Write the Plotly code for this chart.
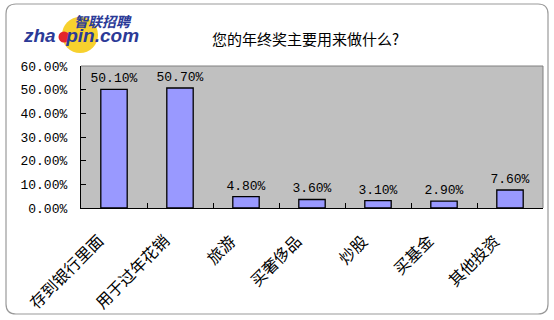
import plotly.graph_objects as go

categories = ["存到银行里面", "用于过年花销", "旅游", "买奢侈品", "炒股", "买基金", "其他投资"]
values = [50.10, 50.70, 4.80, 3.60, 3.10, 2.90, 7.60]
ytick_vals = [0, 10, 20, 30, 40, 50, 60]
ytick_text = ["0.00%", "10.00%", "20.00%", "30.00%", "40.00%", "50.00%", "60.00%"]
title_text = "您的年终奖主要用来做什么?"

W, H = 554, 320
L, R, T, B = 81, 543, 66, 208


def px(x):
    return (x - L) / (R - L)


def py(y):
    return (B - y) / (B - T)


num_font = "Liberation Mono, Noto Sans CJK SC, monospace"
cjk_font = "Noto Sans CJK SC, sans-serif"

fig = go.Figure()
fig.add_trace(go.Bar(
    x=categories, y=values,
    marker=dict(color="#9999FF", line=dict(color="black", width=1.3)),
    width=0.4,
    text=[f"{v:.2f}%" for v in values],
    textposition="outside",
    constraintext="none",
    textfont=dict(family=num_font, size=13, color="black"),
    cliponaxis=False,
    hoverinfo="skip",
))

# rounded outer border
x0, x1, y0, y1, r = 6, 548, 4, 314, 10
path = (
    f"M {px(x0+r)},{py(y0)} L {px(x1-r)},{py(y0)} Q {px(x1)},{py(y0)} {px(x1)},{py(y0+r)} "
    f"L {px(x1)},{py(y1-r)} Q {px(x1)},{py(y1)} {px(x1-r)},{py(y1)} "
    f"L {px(x0+r)},{py(y1)} Q {px(x0)},{py(y1)} {px(x0)},{py(y1-r)} "
    f"L {px(x0)},{py(y0+r)} Q {px(x0)},{py(y0)} {px(x0+r)},{py(y0)} Z"
)
shapes = [
    dict(type="path", xref="paper", yref="paper", path=path,
         line=dict(color="#9a9a9a", width=1.2), layer="below"),
    dict(type="line", xref="paper", yref="paper", x0=0, x1=1, y0=1, y1=1,
         line=dict(color="#808080", width=1)),
    dict(type="line", xref="paper", yref="paper", x0=1, x1=1, y0=0, y1=1,
         line=dict(color="#808080", width=1)),
    dict(type="circle", xref="paper", yref="paper",
         x0=px(62), x1=px(98), y0=py(53), y1=py(17),
         fillcolor="#F7D12E", line=dict(width=0), layer="below"),
    dict(type="circle", xref="paper", yref="paper",
         x0=px(58.5), x1=px(69.5), y0=py(42.5), y1=py(31.5),
         fillcolor="#E3262B", line=dict(width=0)),
]

annotations = [
    dict(text=title_text, xref="paper", yref="paper", x=px(305), y=py(38),
         showarrow=False, font=dict(family=cjk_font, size=15, color="black"),
         xanchor="center", yanchor="middle"),
    dict(text="<b><i>zha  pin.com</i></b>", xref="paper", yref="paper",
         x=px(21), y=py(35), showarrow=False, xanchor="left", yanchor="middle",
         font=dict(family="Liberation Sans, Arial", size=19, color="#2B3A97")),
    dict(text="<b><i>智联招聘</i></b>", xref="paper", yref="paper",
         x=px(103), y=py(21), showarrow=False, xanchor="center", yanchor="middle",
         font=dict(family=cjk_font, size=14, color="#2B3A97")),
]

# rotated category labels placed on the category axis (by category index)
for i, c in enumerate(categories):
    annotations.append(dict(
        text=c, xref="x", yref="y", x=i, y=0, showarrow=False,
        textangle=-45, xanchor="right", yanchor="top",
        xshift=-3, yshift=-18,
        font=dict(family=cjk_font, size=16, color="black"),
    ))

fig.update_layout(
    width=W, height=H,
    margin=dict(l=L, r=W - R, t=T, b=H - B, pad=0),
    paper_bgcolor="white",
    plot_bgcolor="#C0C0C0",
    showlegend=False,
    bargap=0.6,
    shapes=shapes,
    annotations=annotations,
    xaxis=dict(
        type="category",
        categoryorder="array", categoryarray=categories,
        range=[-0.5, len(categories) - 0.5],
        showline=True, linecolor="black", linewidth=1.3,
        ticks="inside", ticklen=5, tickcolor="black", tickson="boundaries",
        showticklabels=False,
        showgrid=False,
    ),
    yaxis=dict(
        range=[0, 60],
        tickvals=ytick_vals, ticktext=ytick_text,
        showline=True, linecolor="black", linewidth=1.3,
        ticks="inside", ticklen=5, tickcolor="black",
        tickfont=dict(family=num_font, size=13, color="black"),
        showgrid=False, zeroline=False,
        ticklabelstandoff=10,
    ),
)

fig.write_html("out.html")
